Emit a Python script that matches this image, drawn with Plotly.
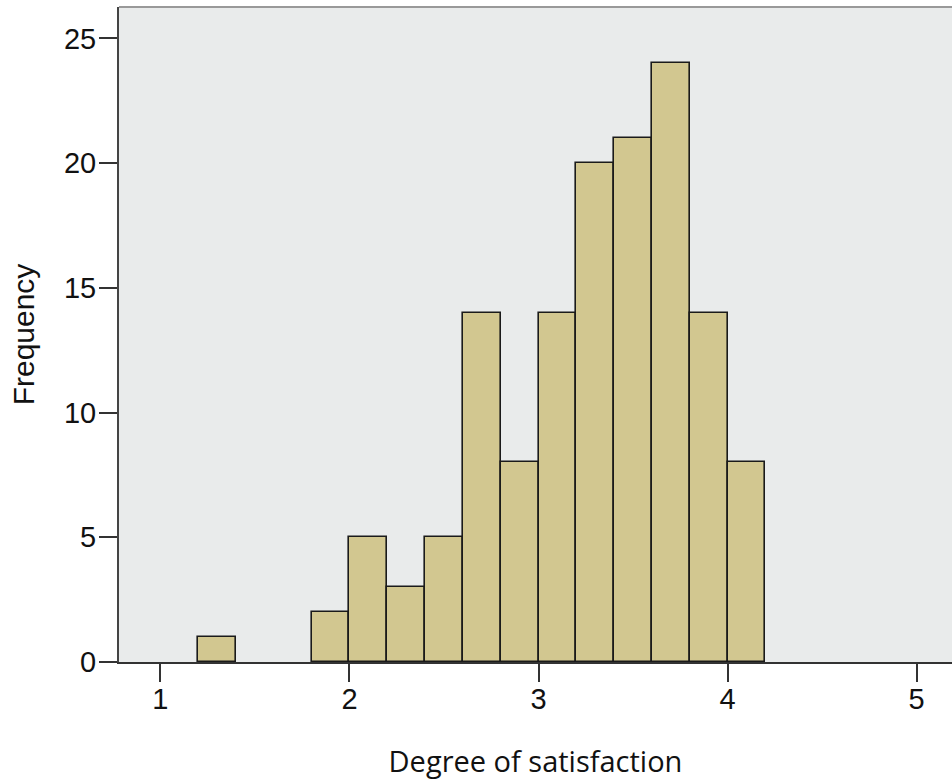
import plotly.graph_objects as go

bin_starts = [1.2, 1.8, 2.0, 2.2, 2.4, 2.6, 2.8, 3.0, 3.2, 3.4, 3.6, 3.8, 4.0]
bin_width = 0.2
counts = [1, 2, 5, 3, 5, 14, 8, 14, 20, 21, 24, 14, 8]
x_ticks = [1, 2, 3, 4, 5]
y_ticks = [0, 5, 10, 15, 20, 25]

centers = [s + bin_width / 2 for s in bin_starts]

fig = go.Figure(go.Bar(
    x=centers, y=counts, width=bin_width,
    marker=dict(color="#d2c790", line=dict(color="#1a1a1a", width=1.6)),
))

fig.update_layout(
    width=952, height=780,
    margin=dict(l=119, r=0, t=7, b=118),
    paper_bgcolor="white", plot_bgcolor="#e9ebeb",
    showlegend=False, bargap=0,
    font=dict(family="Liberation Sans, Arial", color="#111"),
)
fig.update_xaxes(
    range=[0.781, 5.187], tickvals=x_ticks, ticks="outside", ticklen=18, tickwidth=2,
    tickcolor="#333", showline=True, linecolor="#333", linewidth=2, showgrid=False,
    zeroline=False, tickfont=dict(size=29), ticklabelstandoff=-8,
    title=dict(text="Degree of satisfaction", font=dict(family="Open Sans", size=29), standoff=38),
)
fig.update_yaxes(
    range=[0, 26.26], tickvals=y_ticks, ticks="outside", ticklen=18, tickwidth=2,
    tickcolor="#333", showline=True, linecolor="#444", linewidth=2, showgrid=False,
    zeroline=False, tickfont=dict(size=29), ticklabelstandoff=-3,
    title=dict(text="Frequency", font=dict(family="Liberation Sans", size=30), standoff=20),
)
fig.add_shape(type="line", xref="paper", yref="paper", x0=0, x1=1, y0=1, y1=1,
              line=dict(color="#999", width=2))

fig.write_html("out.html", config={"displayModeBar": False},
               post_script="document.body.style.margin='0';document.body.style.overflow='hidden';")
